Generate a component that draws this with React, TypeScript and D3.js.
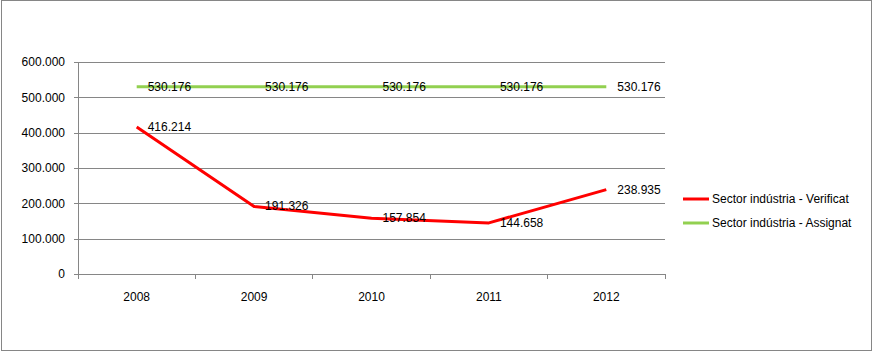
import { useEffect, useRef } from 'react'
import * as d3 from 'd3'

const WIDTH = 873
const HEIGHT = 352
const MARGIN = { top: 62, right: 208, bottom: 78, left: 78 }
const FONT = '"Liberation Sans", Arial, sans-serif'

const years = ['2008', '2009', '2010', '2011', '2012']
const verificat = [416214, 191326, 157854, 144658, 238935]
const assignat = [530176, 530176, 530176, 530176, 530176]
const yTicks = [0, 100000, 200000, 300000, 400000, 500000, 600000]

const series = [
  { label: 'Sector indústria - Verificat', color: '#ff0000', values: verificat },
  { label: 'Sector indústria - Assignat', color: '#92d050', values: assignat },
]

const fmt = (v: number) => (v === 0 ? '0' : d3.format(',.0f')(v).replace(/,/g, '.'))
const fmtLabel = (v: number) => d3.format(',.0f')(v).replace(/,/g, '.')

export default function App() {
  const svgRef = useRef<SVGSVGElement>(null)

  useEffect(() => {
    const svg = d3.select(svgRef.current)
    svg.selectAll('*').remove()

    const innerWidth = WIDTH - MARGIN.left - MARGIN.right
    const innerHeight = HEIGHT - MARGIN.top - MARGIN.bottom

    // chart border
    svg.append('rect')
      .attr('x', 1.5).attr('y', 0.5).attr('width', WIDTH - 3).attr('height', HEIGHT - 2)
      .attr('fill', '#fff').attr('stroke', '#868686').attr('stroke-width', 1)

    const g = svg.append('g').attr('transform', `translate(${MARGIN.left},${MARGIN.top})`)

    const x = d3.scaleBand<string>().domain(years).range([0, innerWidth]).padding(0)
    const y = d3.scaleLinear().domain([0, 600000]).range([innerHeight, 0])
    const cx = (d: string) => (x(d) ?? 0) + x.bandwidth() / 2

    // grid + y axis
    g.append('g')
      .call(d3.axisLeft(y).tickValues(yTicks).tickSize(-innerWidth).tickFormat(() => ''))
      .call(ag => ag.select('.domain').remove())
      .call(ag => ag.selectAll('.tick line').attr('stroke', '#868686').attr('shape-rendering', 'crispEdges'))

    g.append('g')
      .call(d3.axisLeft(y).tickValues(yTicks).tickSize(4).tickPadding(9).tickFormat(d => fmt(+d)))
      .call(ag => ag.select('.domain').attr('stroke', '#868686').attr('shape-rendering', 'crispEdges'))
      .call(ag => ag.selectAll('.tick line').attr('stroke', '#868686').attr('shape-rendering', 'crispEdges'))
      .call(ag => ag.selectAll('text').attr('fill', '#000').attr('font-size', 12).attr('font-family', FONT))

    // x axis with ticks at category boundaries
    const xAxis = g.append('g').attr('transform', `translate(0,${innerHeight})`)
    xAxis.append('line')
      .attr('x1', 0).attr('x2', innerWidth)
      .attr('stroke', '#868686').attr('shape-rendering', 'crispEdges')
    const bounds = [...years.map(d => x(d) ?? 0), innerWidth]
    bounds.forEach(b => {
      xAxis.append('line')
        .attr('x1', b).attr('x2', b).attr('y1', 0).attr('y2', 5)
        .attr('stroke', '#868686').attr('shape-rendering', 'crispEdges')
    })
    years.forEach(d => {
      xAxis.append('text')
        .attr('x', cx(d)).attr('y', 27)
        .attr('text-anchor', 'middle').attr('font-size', 12).attr('font-family', FONT).attr('fill', '#000')
        .text(d)
    })

    // lines + data labels
    const line = d3.line<number>().x((_, i) => cx(years[i])).y(v => y(v))
    series.slice().reverse().forEach(s => {
      g.append('path')
        .attr('d', line(s.values) ?? '')
        .attr('fill', 'none').attr('stroke', s.color).attr('stroke-width', 3)
        .attr('stroke-linejoin', 'round')
    })
    series.forEach(s => {
      s.values.forEach((v, i) => {
        g.append('text')
          .attr('x', cx(years[i]) + 11).attr('y', y(v) + 4)
          .attr('font-size', 12).attr('font-family', FONT).attr('fill', '#000')
          .text(fmtLabel(v))
      })
    })

    // legend
    series.forEach((s, i) => {
      const ly = 199 + i * 24
      svg.append('line')
        .attr('x1', 683).attr('x2', 709).attr('y1', ly).attr('y2', ly)
        .attr('stroke', s.color).attr('stroke-width', 3)
      svg.append('text')
        .attr('x', 712).attr('y', ly + 4)
        .attr('font-size', 12).attr('font-family', FONT).attr('fill', '#000')
        .text(s.label)
    })
  }, [])

  return (
    <svg
      ref={svgRef}
      width={WIDTH}
      height={HEIGHT}
      style={{ position: 'absolute', left: 0, top: 0, display: 'block', background: '#fff' }}
    />
  )
}
